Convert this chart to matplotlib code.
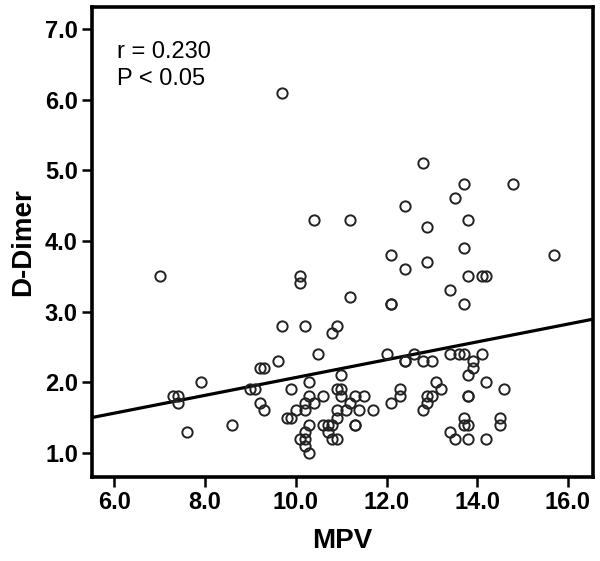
import numpy as np
import matplotlib
matplotlib.use("Agg")
import matplotlib.pyplot as plt

plt.rcParams.update({
    "font.family": ["Liberation Sans", "DejaVu Sans"],
})

# MPV vs D-Dimer values
mpv = [
    7.0, 9.7, 12.8, 13.7, 14.8, 13.5, 12.4, 10.4, 11.2, 13.8,
    12.9, 13.7, 12.1, 15.7, 12.9, 12.4, 10.1, 10.1, 13.8, 14.1,
    14.2, 13.4, 11.2, 12.1, 12.1, 13.7, 9.7, 10.2, 10.9, 10.8,
    10.5, 12.0, 12.6, 13.4, 13.6, 13.7, 14.1, 9.6, 12.4, 12.4,
    12.8, 13.0, 13.9, 9.2, 9.3, 13.9, 11.0, 13.8, 7.9, 10.3,
    13.1, 14.2, 9.0, 9.1, 9.9, 10.9, 11.0, 12.3, 13.2, 14.6,
    7.3, 7.4, 10.3, 10.6, 11.0, 11.3, 11.5, 12.3, 12.9, 13.0,
    13.8, 13.8, 7.4, 9.2, 10.2, 10.4, 11.2, 12.1, 12.9, 9.3,
    10.0, 10.2, 10.9, 11.1, 11.4, 11.7, 12.8, 9.8, 9.9, 10.9,
    13.7, 14.5, 8.6, 10.3, 10.6, 10.7, 10.8, 11.3, 11.3, 13.7,
    13.8, 14.5, 7.6, 10.2, 10.7, 13.4, 10.1, 10.2, 10.8, 10.9,
    13.5, 13.8, 14.2, 10.2, 10.3,
]
ddimer = [
    3.5, 6.1, 5.1, 4.8, 4.8, 4.6, 4.5, 4.3, 4.3, 4.3,
    4.2, 3.9, 3.8, 3.8, 3.7, 3.6, 3.5, 3.4, 3.5, 3.5,
    3.5, 3.3, 3.2, 3.1, 3.1, 3.1, 2.8, 2.8, 2.8, 2.7,
    2.4, 2.4, 2.4, 2.4, 2.4, 2.4, 2.4, 2.3, 2.3, 2.3,
    2.3, 2.3, 2.3, 2.2, 2.2, 2.2, 2.1, 2.1, 2.0, 2.0,
    2.0, 2.0, 1.9, 1.9, 1.9, 1.9, 1.9, 1.9, 1.9, 1.9,
    1.8, 1.8, 1.8, 1.8, 1.8, 1.8, 1.8, 1.8, 1.8, 1.8,
    1.8, 1.8, 1.7, 1.7, 1.7, 1.7, 1.7, 1.7, 1.7, 1.6,
    1.6, 1.6, 1.6, 1.6, 1.6, 1.6, 1.6, 1.5, 1.5, 1.5,
    1.5, 1.5, 1.4, 1.4, 1.4, 1.4, 1.4, 1.4, 1.4, 1.4,
    1.4, 1.4, 1.3, 1.3, 1.3, 1.3, 1.2, 1.2, 1.2, 1.2,
    1.2, 1.2, 1.2, 1.1, 1.0,
]

# fit line as drawn in the original
fit_intercept = 0.806
fit_slope = 0.126

x_ticks = [6.0, 8.0, 10.0, 12.0, 14.0, 16.0]
y_ticks = [1.0, 2.0, 3.0, 4.0, 5.0, 6.0, 7.0]

fig = plt.figure(figsize=(6.0, 5.61), dpi=100)
ax = fig.add_axes([0.153, 0.150, 0.835, 0.8375])

ax.plot(mpv, ddimer, "o", mfc="none", mec="#222222", ms=7.4, mew=1.4, zorder=3)

xlim = (5.5, 16.55)
xs = np.array(xlim)
ax.plot(xs, fit_intercept + fit_slope * xs, color="black", lw=2.3, zorder=2)

ax.set_xlim(*xlim)
ax.set_ylim(0.66, 7.31)
ax.set_xticks(x_ticks)
ax.set_yticks(y_ticks)
ax.set_xticklabels([f"{v:.1f}" for v in x_ticks])
ax.set_yticklabels([f"{v:.1f}" for v in y_ticks])

for s in ax.spines.values():
    s.set_linewidth(2.6)
ax.tick_params(direction="out", length=7, width=1.8, labelsize=17, pad=3)
for lbl in ax.get_xticklabels() + ax.get_yticklabels():
    lbl.set_fontweight("bold")

ax.set_xlabel("MPV", fontsize=20, fontweight="bold", labelpad=10)
ax.set_ylabel("D-Dimer", fontsize=20, fontweight="bold", labelpad=6)

ax.text(0.05, 0.905, "r = 0.230", transform=ax.transAxes,
        fontsize=17, va="center", ha="left")
ax.text(0.05, 0.846, "P < 0.05", transform=ax.transAxes,
        fontsize=17, va="center", ha="left")

fig.savefig("out.png", dpi=100)
